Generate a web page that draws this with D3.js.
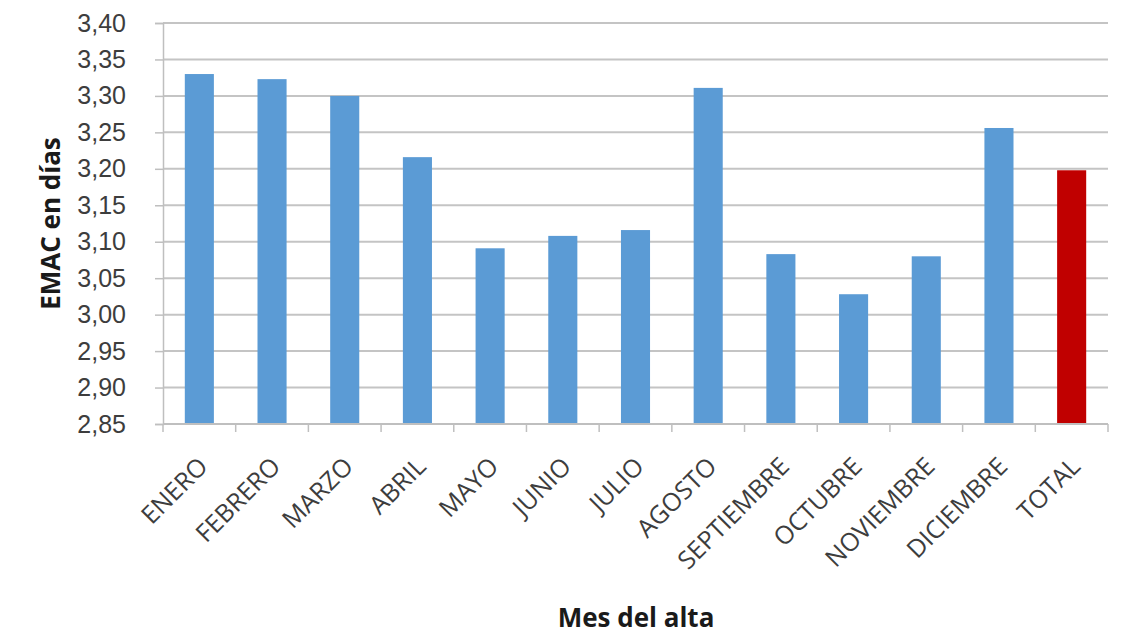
<!DOCTYPE html>
<html>
<head>
<meta charset="utf-8">
<script src="https://cdn.jsdelivr.net/npm/d3@7"></script>
<style>
  body { margin: 0; background: #fff; }
  svg { display: block; }
</style>
</head>
<body>
<div id="chart"></div>
<script>
// EMAC por mes del alta

const months = ["ENERO", "FEBRERO", "MARZO", "ABRIL", "MAYO", "JUNIO", "JULIO",
  "AGOSTO", "SEPTIEMBRE", "OCTUBRE", "NOVIEMBRE", "DICIEMBRE", "TOTAL"];
const emac = [3.330, 3.323, 3.300, 3.216, 3.091, 3.108, 3.116,
  3.311, 3.083, 3.028, 3.080, 3.256, 3.198];
const yTicks = [2.85, 2.90, 2.95, 3.00, 3.05, 3.10, 3.15, 3.20, 3.25, 3.30, 3.35, 3.40];

const width = 1126;
const height = 636;
const margin = { top: 23, right: 18, bottom: 212, left: 163 };

const svg = d3.select("#chart").append("svg")
  .attr("width", width)
  .attr("height", height)
  .attr("font-family", "'Open Sans', sans-serif");

const x = d3.scaleBand()
  .domain(months)
  .range([margin.left, width - margin.right])
  .paddingInner(0.6)
  .paddingOuter(0.3);

const y = d3.scaleLinear()
  .domain([2.85, 3.40])
  .range([height - margin.bottom, margin.top]);

const fmt = (d) => d3.format(".2f")(d).replace(".", ",");

// grid lines
svg.append("g")
  .selectAll("line")
  .data(yTicks.slice(1))
  .join("line")
  .attr("x1", margin.left)
  .attr("x2", width - margin.right)
  .attr("y1", (d) => y(d))
  .attr("y2", (d) => y(d))
  .attr("stroke", "#c4c4c4")
  .attr("stroke-width", 2);

// bars
svg.append("g")
  .selectAll("rect")
  .data(emac)
  .join("rect")
  .attr("x", (d, i) => x(months[i]))
  .attr("width", x.bandwidth())
  .attr("y", (d) => y(d))
  .attr("height", (d) => y(2.85) - y(d))
  .attr("fill", (d, i) => months[i] === "TOTAL" ? "#c00000" : "#5b9bd5");

// y axis
const yAxis = svg.append("g")
  .attr("transform", `translate(${margin.left},0)`)
  .call(d3.axisLeft(y).tickValues(yTicks).tickFormat(fmt).tickSizeOuter(0).tickSize(8).tickPadding(29));
yAxis.select(".domain").attr("stroke", "#bfbfbf").attr("stroke-width", 1.5);
yAxis.selectAll(".tick line").attr("stroke", "#bfbfbf").attr("stroke-width", 1.5);
yAxis.selectAll(".tick text")
  .attr("font-size", 25)
  .attr("fill", "#3d3d3d");

// x axis (ticks between categories)
const step = x.step();
const boundaries = d3.range(months.length + 1).map((i) => margin.left + i * step);
const xAxis = svg.append("g");
xAxis.append("line")
  .attr("x1", margin.left)
  .attr("x2", width - margin.right)
  .attr("y1", y(2.85))
  .attr("y2", y(2.85))
  .attr("stroke", "#bfbfbf")
  .attr("stroke-width", 2);
xAxis.selectAll(".tk")
  .data(boundaries)
  .join("line")
  .attr("class", "tk")
  .attr("x1", (d) => d)
  .attr("x2", (d) => d)
  .attr("y1", y(2.85))
  .attr("y2", y(2.85) + 8)
  .attr("stroke", "#bfbfbf")
  .attr("stroke-width", 1.5);

xAxis.selectAll("text")
  .data(months)
  .join("text")
  .attr("transform", (d) => `translate(${x(d) + x.bandwidth() / 2 + 10},${y(2.85) + 44}) rotate(-45)`)
  .attr("text-anchor", "end")
  .attr("font-size", 25)
  .attr("fill", "#3d3d3d")
  .text((d) => d);

// axis titles
svg.append("text")
  .attr("transform", `translate(60,${(margin.top + y(2.85)) / 2}) rotate(-90)`)
  .attr("text-anchor", "middle")
  .attr("font-size", 26)
  .attr("font-weight", "bold")
  .attr("fill", "#1a1a1a")
  .text("EMAC en días");

svg.append("text")
  .attr("x", 636)
  .attr("y", 627)
  .attr("text-anchor", "middle")
  .attr("font-size", 26)
  .attr("font-weight", "bold")
  .attr("fill", "#1a1a1a")
  .text("Mes del alta");
</script>
</body>
</html>
